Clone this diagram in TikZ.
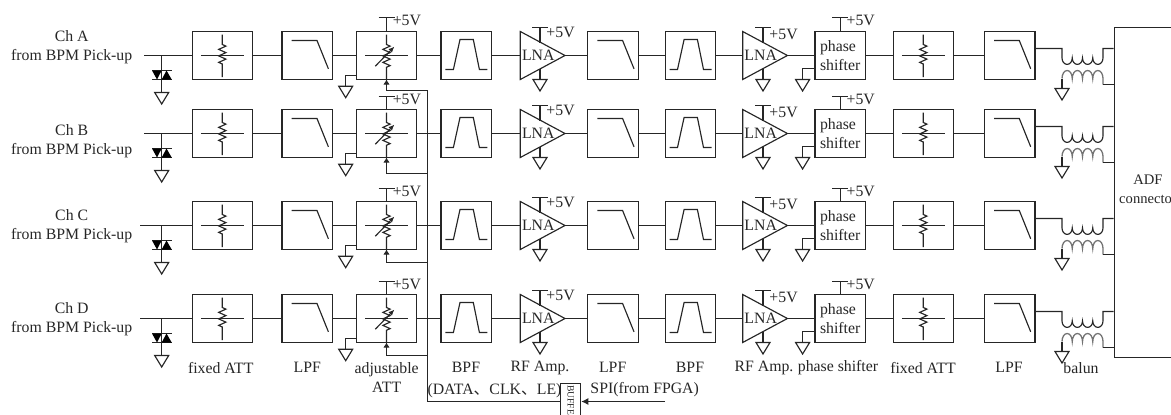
\documentclass[tikz,border=0pt]{standalone}
\usepackage{fontspec}
\setmainfont{Liberation Serif}
\newfontfamily\cjk{Noto Sans CJK SC}
\usetikzlibrary{arrows.meta, calc, decorations.pathmorphing, shapes.geometric}

\tikzset{
    wire/.style={line width=1.15pt, black!85},
    txt/.style={font=\fontsize{15.8}{19}\selectfont, text=black!85, inner sep=0, align=center},
    blockbox/.style={wire, draw, minimum height=48, inner sep=0, outer sep=0},
    amptri/.style={wire, draw, isosceles triangle, isosceles triangle stretches, minimum width=48,
            minimum height=44.7, inner sep=0, outer sep=0, anchor=lower side},
    gndtri/.style={wire, draw, isosceles triangle, isosceles triangle stretches, shape border rotate=-90,
            minimum width=14, minimum height=11.5, inner sep=0, outer sep=0, anchor=lower side},
    resistor/.style={wire, decorate, decoration={zigzag, segment length=6.5, amplitude=3.6, pre length=10, post length=10}},
}

\begin{document}
\begin{tikzpicture}[x=1pt, y=-1pt]
        \useasboundingbox (0,0) rectangle (1171,415);
        \clip (0,0) rectangle (1171,415);

        \node[wire, draw, minimum width=100, minimum height=329.7, inner sep=0, anchor=north west] (adf) at (1113.5,27) {};
        \node[txt, font=\fontsize{14.6}{19}\selectfont] (adftext) at (1148,189.7) {ADF\\connector};

        % one channel per row
        \foreach \c/\y/\ly/\ty/\by/\sx in {A/55.5/47.3/17.5/90.5/144, B/133.5/140.7/96.5/173.5/144, C/225.5/226/188.5/262.5/140, D/318.5/319.5/281.5/355.5/140} {
                \node[txt] (ch\c) at (71.7,\ly) {Ch \c\\from BPM Pick-up};
                \coordinate (in\c) at (\sx,\y);

                \foreach \n/\x in {1/222.3, 2/923.3} {
                        \node[blockbox, minimum width=60.4] (att\n\c) at (\x,\y) {};
                        \draw[wire] (\x-21.5,\y) -- (\x+21.5,\y);
                        \draw[resistor] (\x,\y-21) -- (\x,\y+21.5);
                    }
                \foreach \n/\x in {1/307.4, 2/613, 3/1009.7} {
                        \node[blockbox, minimum width=50.7] (lpf\n\c) at (\x,\y) {};
                        \draw[wire] (\x-15.7,\y-15) -- (\x+9.6,\y-15) -- (\x+21,\y+13.3);
                    }
                \foreach \n/\x in {1/466.4, 2/690.5} {
                        \node[blockbox, minimum width=50.7] (bpf\n\c) at (\x,\y) {};
                        \draw[wire] (\x-21,\y+14) -- (\x-13,\y+14) -- (\x-6.4,\y-16) -- (\x+6.9,\y-16)
                        -- (\x+13,\y+14) -- (\x+21,\y+14);
                    }

                % adjustable attenuator
                \node[blockbox, minimum width=60.4] (adj\c) at (386.5,\y) {};
                \draw[line width=1.5pt, black!85] (365,\y) -- (408,\y);
                \draw[resistor] (386.5,\y-21) -- (386.5,\y+24);
                \draw[wire, -{Latex[length=6pt, width=5pt]}] (375.3,\y+10.7) -- (394.5,\y-9);
                \coordinate (vccadj\c) at (386.5,\ty);
                \draw[wire] (vccadj\c) -- (adj\c.north);
                \draw[wire] ($(vccadj\c)+(-8,0)$) -- ($(vccadj\c)+(8,0)$);
                \node[txt] (pwradj\c) at ($(vccadj\c)+(20.4,3.4)$) {+5V};
                \node[gndtri] (gndadj\c) at (345.7,\y+30.7) {};
                \draw[wire] (adj\c.west |- 0,\y+19.7) -| (gndadj\c.lower side);
                \coordinate (ctl\c) at (386.5,\by);
                \draw[wire, -{Latex[length=5pt, width=6.5pt]}] (ctl\c -| 427.5,0) -- (ctl\c) -- (adj\c.south);

                % amplifiers
                \foreach \n/\x/\tx/\dy in {1/520.3/540/-23.5, 2/742.7/763/-21.5} {
                        \node[amptri] (lna\n\c) at (\x,\y) {};
                        \node[txt] (lnatext\n\c) at (\x+18,\y-0.7) {LNA};
                        \coordinate (vcclna\n\c) at (\tx,\y-28);
                        \draw[wire] (vcclna\n\c) -- (\tx,\y-13);
                        \draw[wire] ($(vcclna\n\c)+(-8,0)$) -- ($(vcclna\n\c)+(8,0)$);
                        \node[txt] (pwrlna\n\c) at (\tx+20.6,\y+\dy) {+5V};
                        \node[gndtri] (gndlna\n\c) at (\tx,\y+24) {};
                        \draw[wire] (\tx,\y+13) -- (gndlna\n\c.lower side);
                    }

                % phase shifter
                \node[blockbox, minimum width=50.3, txt, inner sep=0, align=left, draw] (phase\c) at (840.2,\y) {phase\\shifter};
                \coordinate (vccphase\c) at (840.2,\ty);
                \draw[wire] (vccphase\c) -- (phase\c.north);
                \draw[wire] ($(vccphase\c)+(-8,0)$) -- ($(vccphase\c)+(8,0)$);
                \node[txt] (pwrphase\c) at ($(vccphase\c)+(20.5,3.4)$) {+5V};
                \node[gndtri] (gndphase\c) at (802.6,\y+24) {};
                \draw[wire] (phase\c.west |- 0,\y+13) -| (gndphase\c.lower side);

                % signal chain
                \draw[wire] (in\c) -- (att1\c) -- (lpf1\c) -- (adj\c) -- (bpf1\c) -- (lna1\c) -- (lpf2\c) -- (bpf2\c)
                -- (lna2\c) -- (phase\c) -- (att2\c) -- (lpf3\c);

                % input clamp
                \coordinate (clamp\c) at (161.7,\y);
                \node[gndtri] (gndin\c) at (161.7,\y+37) {};
                \draw[wire] (clamp\c) -- (gndin\c.lower side);
                \draw[wire] (152,\y+15) -- (171.7,\y+15);
                \draw[wire] (152,\y+24) -- (171.7,\y+24);
                \fill[black] (152,\y+15) -- (161.7,\y+15) -- (157,\y+24) -- cycle;
                \fill[black] (161.7,\y+24) -- (171.7,\y+24) -- (166.5,\y+15) -- cycle;

                % balun
                \coordinate (balunin\c) at (1062,\y-7);
                \draw[wire] (lpf3\c.east |- balunin\c) -- (balunin\c) -- ++(0,9.4)
                \foreach \k in {1,...,4} { arc[start angle=180, end angle=0, x radius=5.125, y radius=6.5] }
                -- ++(0,-9.4) -- (adf.west |- balunin\c);
                \coordinate (balunout\c) at (1062,\y+23);
                \node[gndtri] (gndbal\c) at (1062,\y+33) {};
                \draw[wire] (gndbal\c.lower side) -- (balunout\c);
                \draw[line width=1.3pt, black!55] (balunout\c)
                \foreach \k in {1,...,4} { arc[start angle=180, end angle=360, x radius=5.125, y radius=8] }
                -- ++(0,6);
                \draw[wire] (1103,\y+29) -- (adf.west |- 0,\y+29);
            }

        % control bus
        \node[wire, draw, minimum width=20, minimum height=60, inner sep=0, anchor=north] (buffer) at (570.7,382.5) {};
        \node[rotate=-90, font=\fontsize{9.6}{10}\selectfont, text=black!85, inner sep=0] (buffertext) at (570.7,403.3) {BUFFER};
        \coordinate (spi) at (665,401.5);
        \coordinate (bus) at (427.5,401.5);
        \draw[wire, -{Latex[length=7pt, width=7pt]}] (spi) -- (spi -| buffer.east);
        \draw[wire] (ctlA -| bus) -- (bus) -- (bus -| buffer.west);

        \node[txt] (spitext) at (644.7,390) {SPI(from FPGA)};
        \node[txt] (bustext) at (494.5,390.5) {(DATA{\cjk 、}CLK{\cjk 、}LE)};

        % captions
        \foreach \t/\x/\nm in {fixed ATT/220.7/a, LPF/307.3/b, BPF/466/c, RF Amp./540/d, LPF/612.7/e, BPF/690/f,
                RF Amp./764/g, phase shifter/838/h, fixed ATT/923/i, LPF/1009/j, balun/1081/k} {
                \node[txt] (cap\nm) at (\x,367.7) {\t};
            }
        \node[txt] (capadj) at (386.7,377.5) {adjustable\\ATT};
    \end{tikzpicture}
\end{document}
